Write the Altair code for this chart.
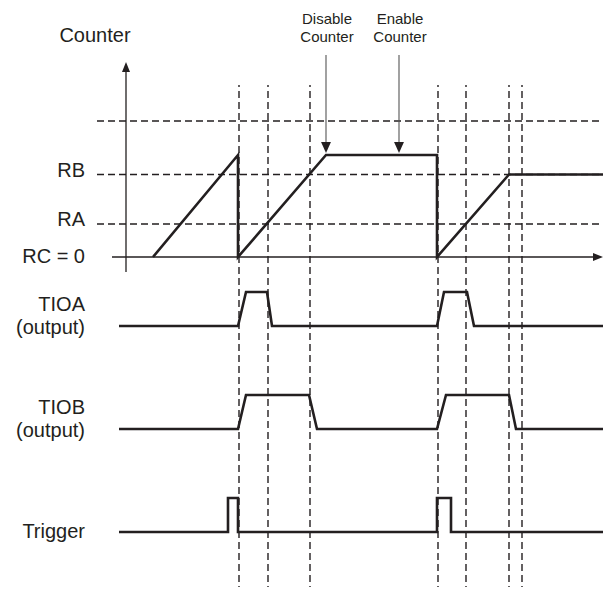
import altair as alt
import pandas as pd

# ---------------- data ----------------
# time in arbitrary units, counter in counts, logic levels 0/1
counter_t = [2.7, 11.2, 11.2, 20.0, 31.1, 31.1, 38.3, 48.0]
counter_v = [0, 102, 0, 102, 102, 0, 82.5, 82.5]

level_names = ["RB", "RA"]
level_vals = [82.5, 33]
zero_name = "RC = 0"
top_level = 136

tioa_t = [-0.7, 11.2, 12.0, 14.1, 14.6, 31.1, 31.8, 34.1, 34.8, 48.0]
tioa_v = [0, 0, 1, 1, 0, 0, 1, 1, 0, 0]
tiob_t = [-0.7, 11.2, 12.0, 18.3, 19.1, 31.1, 32.0, 38.3, 39.0, 48.0]
tiob_v = [0, 0, 1, 1, 0, 0, 1, 1, 0, 0]
trig_t = [-0.7, 10.2, 10.2, 11.2, 11.2, 31.1, 31.1, 32.5, 32.5, 48.0]
trig_v = [0, 0, 1, 1, 0, 0, 1, 1, 0, 0]

event_t = [11.3, 14.2, 18.4, 31.2, 34.0, 38.3, 39.6]

ann_t = [20.0, 27.3]
ann_text = [["Disable", "Counter"], ["Enable", "Counter"]]

lane_names = ["TIOA", "TIOB", "Trigger"]
lane_text = [["TIOA", "(output)"], ["TIOB", "(output)"], ["Trigger"]]

# ---------------- layout ----------------
W, H = 595, 579
lane_base = {"TIOA": -69, "TIOB": -172, "Trigger": -275}
pulse_h = 34
INK = "#231f20"
FONT = "Liberation Sans"

xs = alt.Scale(domain=[-11.8, 47.7], nice=False, zero=False)
ys = alt.Scale(domain=[-330, 249], nice=False, zero=False)

def X(f="t"):
    return alt.X(f, type="quantitative", scale=xs, axis=None)

def Y(f="v"):
    return alt.Y(f, type="quantitative", scale=ys, axis=None)

# horizontal dashed reference lines
hdash = pd.DataFrame({"v": level_vals + [top_level], "t": -2.9, "t2": 48.0})
hrules = alt.Chart(hdash).mark_rule(strokeDash=[7, 4], strokeWidth=1.5, color=INK, clip=True).encode(
    x=X(), x2="t2", y=Y())

# vertical dashed event lines
vdash = pd.DataFrame({"t": event_t, "v": -336, "v2": 172})
vrules = alt.Chart(vdash).mark_rule(strokeDash=[7, 4], strokeWidth=1.4, color=INK, clip=True).encode(
    x=X(), y=Y(), y2="v2")

# axes
yaxis = alt.Chart(pd.DataFrame({"t": [0], "v": [-15], "v2": [185]})).mark_rule(
    strokeWidth=1.3, color=INK).encode(x=X(), y=Y(), y2="v2")
yhead = alt.Chart(pd.DataFrame({"t": [0], "v": [190]})).mark_point(
    shape="M-0.8,1L0.8,1L0,-1Z", size=100, filled=True, opacity=1, color=INK).encode(x=X(), y=Y())
xaxis = alt.Chart(pd.DataFrame({"t": [-1.4], "t2": [46.9], "v": [0]})).mark_rule(
    strokeWidth=1.3, color=INK).encode(x=X(), x2="t2", y=Y())
xhead = alt.Chart(pd.DataFrame({"t": [47.2], "v": [0]})).mark_point(
    shape="M-1,-0.8L-1,0.8L1,0Z", size=100, filled=True, opacity=1, color=INK).encode(x=X(), y=Y())

# counter trace
cdf = pd.DataFrame({"t": counter_t, "v": counter_v, "i": range(len(counter_t))})
counter = alt.Chart(cdf).mark_line(strokeWidth=2.6, color=INK, clip=True, strokeJoin="miter").encode(
    x=X(), y=Y(), order="i:Q")

# digital lanes
rows = []
for name, ts, vs in [("TIOA", tioa_t, tioa_v), ("TIOB", tiob_t, tiob_v), ("Trigger", trig_t, trig_v)]:
    for i, (t, v) in enumerate(zip(ts, vs)):
        rows.append({"lane": name, "t": t, "v": lane_base[name] + v * pulse_h, "i": i})
ldf = pd.DataFrame(rows)
lanes = alt.Chart(ldf).mark_line(strokeWidth=2.6, color=INK, clip=True, strokeJoin="miter").encode(
    x=X(), y=Y(), detail="lane:N", order="i:Q")

# annotation arrows
adf = pd.DataFrame({"t": ann_t, "v": 202, "v2": 112, "head": 109.5, "txt": ann_text, "tv": 233})
arr = alt.Chart(adf).mark_rule(strokeWidth=1.1, color="#555555").encode(x=X(), y=Y(), y2="v2")
arrhead = alt.Chart(adf).mark_point(
    shape="M-0.9,-1L0.9,-1L0,1Z", size=121, filled=True, opacity=1, color=INK).encode(x=X(), y=Y("head"))
anntext = alt.Chart(adf).mark_text(fontSize=15, font=FONT, color=INK, align="center",
                                   baseline="alphabetic", lineHeight=17.5, dx=1).encode(
    x=X(), y=Y("tv"), text="txt")

# labels
title = alt.Chart(pd.DataFrame({"t": [-3.1], "v": [215], "txt": ["Counter"]})).mark_text(
    fontSize=20, font=FONT, color=INK, align="center", baseline="alphabetic").encode(
    x=X(), y=Y(), text="txt")
lvl = alt.Chart(pd.DataFrame({"t": -4.1, "v": level_vals, "txt": level_names})).mark_text(
    fontSize=20, font=FONT, color=INK, align="right", baseline="alphabetic", dy=2).encode(
    x=X(), y=Y(), text="txt")
zero = alt.Chart(pd.DataFrame({"t": [-4.1], "v": [0], "txt": [zero_name]})).mark_text(
    fontSize=20, font=FONT, color=INK, align="right", baseline="middle").encode(
    x=X(), y=Y(), text="txt")
out_lbl = alt.Chart(pd.DataFrame({"t": -4.1, "v": [lane_base[n] for n in lane_names[:2]],
                                  "txt": lane_text[:2]})).mark_text(
    fontSize=20, font=FONT, color=INK, align="right", baseline="alphabetic", dy=-15, lineHeight=23).encode(
    x=X(), y=Y(), text="txt")
trig_lbl = alt.Chart(pd.DataFrame({"t": [-4.1], "v": [lane_base["Trigger"]], "txt": lane_text[2]})).mark_text(
    fontSize=20, font=FONT, color=INK, align="right", baseline="middle").encode(
    x=X(), y=Y(), text="txt")

chart = alt.layer(
    hrules, vrules, yaxis, yhead, xaxis, xhead, counter, lanes,
    arr, arrhead, anntext, title, lvl, zero, out_lbl, trig_lbl
).properties(
    width=W, height=H, padding=0, autosize=alt.AutoSizeParams(type="none"), background="white"
).configure_view(stroke=None)

chart.save("out.html", embed_options={"renderer": "svg", "actions": False})
